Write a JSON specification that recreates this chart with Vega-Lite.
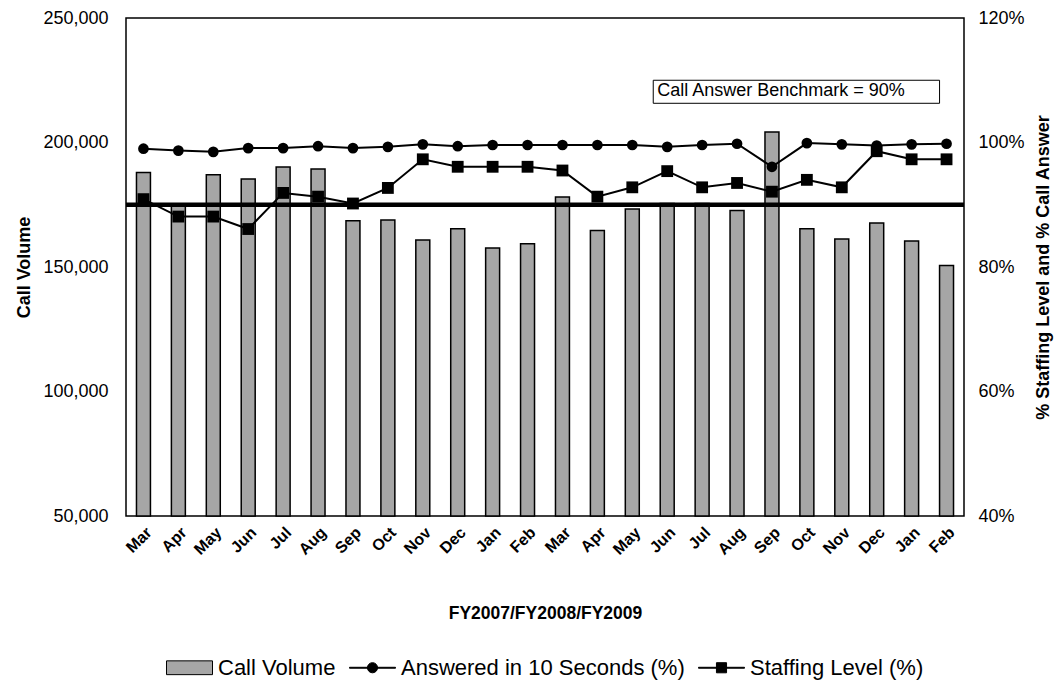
{
  "$schema": "https://vega.github.io/schema/vega-lite/v6.json",
  "autosize": {"type": "none"},
  "width": 838,
  "height": 498,
  "padding": {"left": 126, "top": 18, "right": 92, "bottom": 171},
  "background": "white",
  "config": {
    "font": "Liberation Sans",
    "view": {"stroke": "black", "strokeWidth": 1.5},
    "axis": {"labelColor": "black", "titleColor": "black", "labelFont": "Liberation Sans", "titleFont": "Liberation Sans"}
  },
  "data": {
    "values": [
      {"month": "Mar-07", "volume": 187960, "answered": 99.0, "staffing": 90.9},
      {"month": "Apr-07", "volume": 175200, "answered": 98.7, "staffing": 88.1},
      {"month": "May-07", "volume": 187040, "answered": 98.5, "staffing": 88.1},
      {"month": "Jun-07", "volume": 185320, "answered": 99.1, "staffing": 86.1},
      {"month": "Jul-07", "volume": 190130, "answered": 99.1, "staffing": 91.9},
      {"month": "Aug-07", "volume": 189330, "answered": 99.4, "staffing": 91.3},
      {"month": "Sep-07", "volume": 168590, "answered": 99.1, "staffing": 90.2},
      {"month": "Oct-07", "volume": 168870, "answered": 99.3, "staffing": 92.7},
      {"month": "Nov-07", "volume": 160850, "answered": 99.7, "staffing": 97.3},
      {"month": "Dec-07", "volume": 165380, "answered": 99.4, "staffing": 96.1},
      {"month": "Jan-08", "volume": 157630, "answered": 99.6, "staffing": 96.1},
      {"month": "Feb-08", "volume": 159360, "answered": 99.6, "staffing": 96.1},
      {"month": "Mar-08", "volume": 178100, "answered": 99.6, "staffing": 95.5},
      {"month": "Apr-08", "volume": 164700, "answered": 99.6, "staffing": 91.3},
      {"month": "May-08", "volume": 173280, "answered": 99.6, "staffing": 92.8},
      {"month": "Jun-08", "volume": 175500, "answered": 99.3, "staffing": 95.4},
      {"month": "Jul-08", "volume": 175500, "answered": 99.6, "staffing": 92.8},
      {"month": "Aug-08", "volume": 172720, "answered": 99.8, "staffing": 93.5},
      {"month": "Sep-08", "volume": 204170, "answered": 96.1, "staffing": 92.1},
      {"month": "Oct-08", "volume": 165380, "answered": 99.9, "staffing": 94.0},
      {"month": "Nov-08", "volume": 161250, "answered": 99.7, "staffing": 92.8},
      {"month": "Dec-08", "volume": 167660, "answered": 99.5, "staffing": 98.6},
      {"month": "Jan-09", "volume": 160440, "answered": 99.7, "staffing": 97.3},
      {"month": "Feb-09", "volume": 150650, "answered": 99.8, "staffing": 97.3}
    ]
  },
  "layer": [
    {
      "mark": {"type": "bar", "stroke": "black", "strokeWidth": 1.5},
      "encoding": {
        "x": {
          "field": "month",
          "type": "ordinal",
          "sort": null,
          "scale": {
            "domain": ["Mar-07","Apr-07","May-07","Jun-07","Jul-07","Aug-07","Sep-07","Oct-07","Nov-07","Dec-07","Jan-08","Feb-08","Mar-08","Apr-08","May-08","Jun-08","Jul-08","Aug-08","Sep-08","Oct-08","Nov-08","Dec-08","Jan-09","Feb-09"],
            "paddingInner": 0.6,
            "paddingOuter": 0.3
          },
          "axis": {
            "title": "FY2007/FY2008/FY2009",
            "labelExpr": "split(datum.label, '-')[0]",
            "labelAngle": -45,
            "labelFontWeight": "bold",
            "labelFontSize": 16,
            "labelPadding": 8,
            "ticks": false,
            "domain": false,
            "titleFontWeight": "bold",
            "titleFontSize": 17.5,
            "titleY": 97,
            "titleBaseline": "middle"
          }
        },
        "y": {
          "field": "volume",
          "type": "quantitative",
          "scale": {"domain": [50000, 250000], "nice": false, "zero": false},
          "axis": {
            "orient": "left",
            "title": "Call Volume",
            "values": [50000, 100000, 150000, 200000, 250000],
            "format": ",.0f",
            "labelFontSize": 18,
            "labelPadding": 18,
            "ticks": false,
            "domain": false,
            "grid": false,
            "titleFontSize": 18,
            "titleFontWeight": "bold",
            "titleAngle": 270,
            "titleAlign": "center",
            "titleBaseline": "middle",
            "titleX": -102
          }
        },
        "y2": {"datum": 50000},
        "fill": {
          "datum": "Call Volume",
          "type": "nominal",
          "scale": {
            "domain": ["Call Volume", "Answered in 10 Seconds (%)", "Staffing Level (%)"],
            "range": ["#a6a6a6", "black", "black"]
          },
          "legend": {
            "orient": "none",
            "direction": "horizontal",
            "legendX": 40,
            "legendY": 626,
            "title": null,
            "symbolSize": 2116,
            "labelFontSize": 22,
            "labelFont": "Liberation Sans",
            "labelColor": "black",
            "labelLimit": 400,
            "labelOffset": 5,
            "columnPadding": 11,
            "symbolStrokeColor": "black",
            "symbolStrokeWidth": 1,
            "symbolOpacity": 1,
            "encode": {
              "symbols": {
                "update": {
                  "shape": {"signal": "datum.value === 'Call Volume' ? 'M-1,-0.3H1V0.3H-1Z' : (datum.value === 'Staffing Level (%)' ? 'M-1,-0.02H1V0.02H-1Z M-0.22,-0.22H0.22V0.22H-0.22Z' : 'M-1,-0.02H1V0.02H-1Z M0.22,0A0.22,0.22 0 1,1 -0.22,0A0.22,0.22 0 1,1 0.22,0Z')"},
                  "stroke": {"value": "black"},
                  "strokeWidth": {"value": 1},
                  "opacity": {"value": 1}
                }
              }
            }
          }
        }
      }
    },
    {
      "data": {"values": [{"benchmark": 90}]},
      "mark": {"type": "rule", "color": "black", "strokeWidth": 4.5},
      "encoding": {
        "y": {"field": "benchmark", "type": "quantitative", "scale": {"domain": [40, 120], "nice": false, "zero": false}, "axis": null}
      }
    },
    {
      "mark": {"type": "line", "color": "black", "strokeWidth": 2},
      "encoding": {
        "x": {"field": "month", "type": "ordinal", "sort": null},
        "y": {
          "field": "answered",
          "type": "quantitative",
          "scale": {"domain": [40, 120], "nice": false, "zero": false},
          "axis": {
            "orient": "right",
            "title": "% Staffing Level and % Call Answer",
            "values": [40, 60, 80, 100, 120],
            "labelExpr": "datum.value + '%'",
            "labelFontSize": 18,
            "labelPadding": 14,
            "ticks": false,
            "domain": false,
            "grid": false,
            "titleFontSize": 18,
            "titleFontWeight": "bold",
            "titleAngle": 270,
            "titleAlign": "center",
            "titleBaseline": "middle",
            "titleX": 79
          }
        }
      }
    },
    {
      "mark": {"type": "line", "color": "black", "strokeWidth": 2},
      "encoding": {
        "x": {"field": "month", "type": "ordinal", "sort": null},
        "y": {"field": "staffing", "type": "quantitative", "scale": {"domain": [40, 120], "nice": false, "zero": false}, "axis": null}
      }
    },
    {
      "mark": {"type": "point", "shape": "circle", "filled": true, "size": 115, "opacity": 1},
      "encoding": {
        "x": {"field": "month", "type": "ordinal", "sort": null},
        "y": {"field": "answered", "type": "quantitative", "scale": {"domain": [40, 120], "nice": false, "zero": false}, "axis": null},
        "fill": {"datum": "Answered in 10 Seconds (%)", "type": "nominal"}
      }
    },
    {
      "mark": {"type": "point", "shape": "square", "filled": true, "size": 140, "opacity": 1},
      "encoding": {
        "x": {"field": "month", "type": "ordinal", "sort": null},
        "y": {"field": "staffing", "type": "quantitative", "scale": {"domain": [40, 120], "nice": false, "zero": false}, "axis": null},
        "fill": {"datum": "Staffing Level (%)", "type": "nominal"}
      }
    },
    {
      "data": {"values": [{"label": "Call Answer Benchmark = 90%", "from": "Jun-08", "to": "Feb-09", "top": 110, "bottom": 106.3, "mid": 108.2}]},
      "mark": {"type": "rect", "fill": "white", "stroke": "black", "strokeWidth": 1},
      "encoding": {
        "x": {"field": "from", "type": "ordinal", "bandPosition": -0.5},
        "x2": {"field": "to", "bandPosition": 0},
        "y": {"field": "top", "type": "quantitative", "scale": {"domain": [40, 120], "nice": false, "zero": false}, "axis": null},
        "y2": {"field": "bottom"}
      }
    },
    {
      "data": {"values": [{"label": "Call Answer Benchmark = 90%", "from": "Jun-08", "mid": 108.2}]},
      "mark": {"type": "text", "align": "left", "baseline": "middle", "fontSize": 18, "dx": 4, "color": "black", "font": "Liberation Sans"},
      "encoding": {
        "x": {"field": "from", "type": "ordinal", "bandPosition": -0.5},
        "y": {"field": "mid", "type": "quantitative", "scale": {"domain": [40, 120], "nice": false, "zero": false}, "axis": null},
        "text": {"field": "label"}
      }
    }
  ],
  "resolve": {"scale": {"y": "independent"}, "axis": {"y": "independent"}}
}
